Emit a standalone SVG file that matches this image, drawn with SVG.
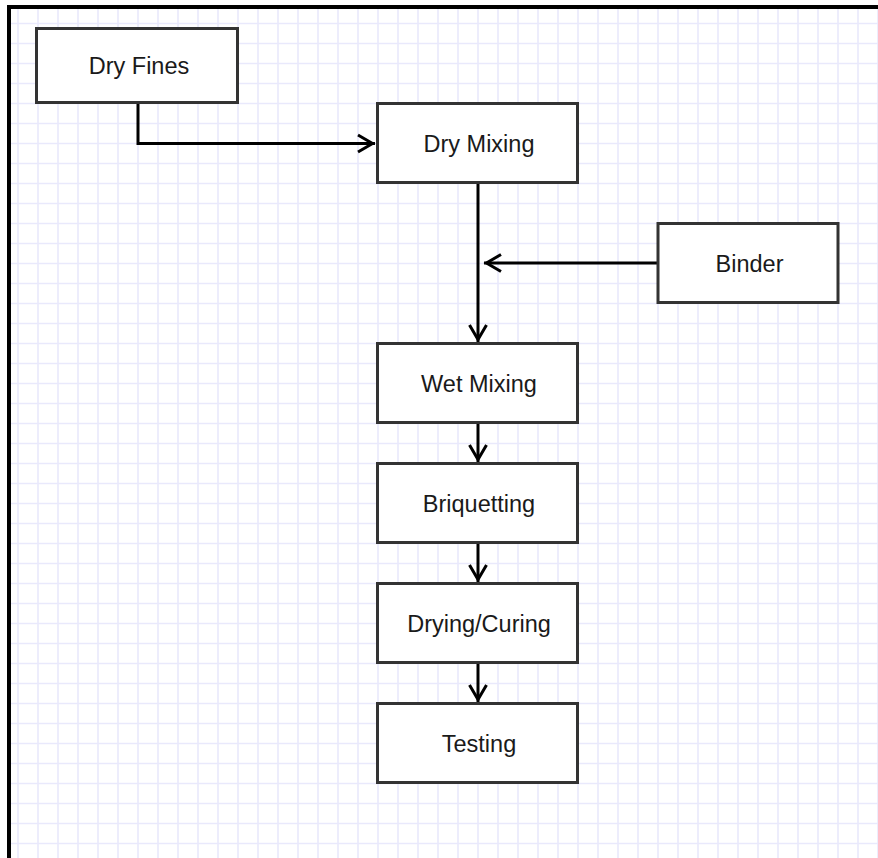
<svg xmlns="http://www.w3.org/2000/svg" width="878" height="858" viewBox="0 0 878 858">
  <style>
    .box { fill: #ffffff; stroke: #333333; stroke-width: 3; }
    .lbl { font-family: "Liberation Sans", Arial, sans-serif; font-size: 23.5px; fill: #1a1a1a; text-anchor: middle; }
    .conn { fill: none; stroke: #000000; stroke-width: 3; }
  </style>
  <defs>
    <pattern id="grid" patternUnits="userSpaceOnUse" x="0" y="0" width="20" height="20">
      <path d="M18,0 V20 M0,3.5 H20" fill="none" stroke="#e9e9fc" stroke-width="1.6"/>
    </pattern>
    <marker id="arrow" markerUnits="userSpaceOnUse" markerWidth="24" markerHeight="24" refX="0" refY="0" viewBox="-20 -12 24 24" orient="auto" overflow="visible">
      <path d="M-17,-8.5 L-2.5,0 L-17,8.5" fill="none" stroke="#000000" stroke-width="3"/>
    </marker>
  </defs>
  <rect x="0" y="0" width="878" height="858" fill="#ffffff"/>
  <rect x="11" y="9" width="867" height="849" fill="url(#grid)"/>
  <path d="M9,858 V7 H878" fill="none" stroke="#000000" stroke-width="4"/>

  <g id="connectors">
    <path class="conn" d="M138,102.5 V143.5 H375" marker-end="url(#arrow)"/>
    <path class="conn" d="M478,183 V342" marker-end="url(#arrow)"/>
    <path class="conn" d="M658,263 H484" marker-end="url(#arrow)"/>
    <path class="conn" d="M478,423 V462" marker-end="url(#arrow)"/>
    <path class="conn" d="M478,543 V582" marker-end="url(#arrow)"/>
    <path class="conn" d="M478,663 V702" marker-end="url(#arrow)"/>
  </g>

  <g id="dry-fines">
    <rect class="box" x="36.5" y="28.5" width="201" height="74"/>
    <text class="lbl" x="139" y="74">Dry Fines</text>
  </g>
  <g id="dry-mixing">
    <rect class="box" x="377.5" y="103.5" width="200" height="79"/>
    <text class="lbl" x="479" y="151.7">Dry Mixing</text>
  </g>
  <g id="binder">
    <rect class="box" x="658" y="223.5" width="180" height="79"/>
    <text class="lbl" x="749.5" y="271.7">Binder</text>
  </g>
  <g id="wet-mixing">
    <rect class="box" x="377.5" y="343.5" width="200" height="79"/>
    <text class="lbl" x="479" y="391.7">Wet Mixing</text>
  </g>
  <g id="briquetting">
    <rect class="box" x="377.5" y="463.5" width="200" height="79"/>
    <text class="lbl" x="479" y="511.7">Briquetting</text>
  </g>
  <g id="drying-curing">
    <rect class="box" x="377.5" y="583.5" width="200" height="79"/>
    <text class="lbl" x="479" y="631.7">Drying/Curing</text>
  </g>
  <g id="testing">
    <rect class="box" x="377.5" y="703.5" width="200" height="79"/>
    <text class="lbl" x="479" y="751.7">Testing</text>
  </g>
</svg>
